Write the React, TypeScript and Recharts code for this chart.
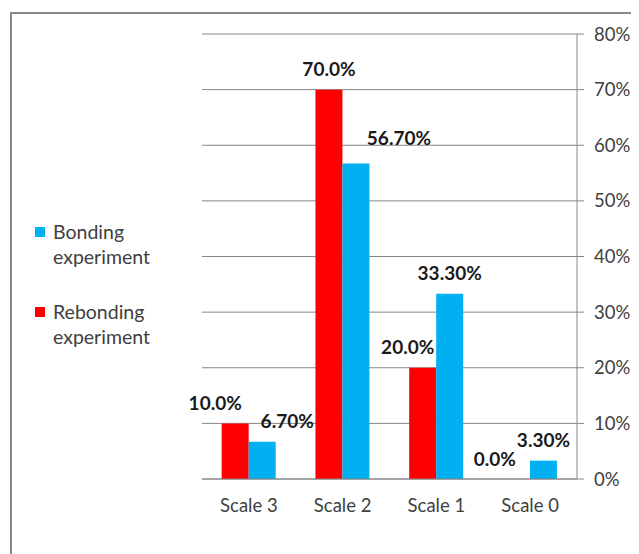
import { BarChart, Bar, XAxis, YAxis, CartesianGrid, Legend, LabelList, ReferenceDot } from 'recharts';

const categories = ['Scale 3', 'Scale 2', 'Scale 1', 'Scale 0'];
const rebonding = [10.0, 70.0, 20.0, 0.0];
const bonding = [6.7, 56.7, 33.3, 3.3];
const yTicks = [0, 10, 20, 30, 40, 50, 60, 70, 80];
const edgeTicks = [0, 1, 2, 3, 4];

// label nudges so the value tags don't collide (dx, dy)
const rebondingLabelShift = [[-20, 0], [0, 0], [-15, 0], [-22, 0]];
const bondingLabelShift = [[25, 0], [43, -5], [0, 0], [0, 0]];

const data = categories.map((name, i) => ({
  name,
  rebonding: rebonding[i],
  bonding: bonding[i],
}));

const FONT = 'Lato, "Open Sans", sans-serif';
const RED = '#FF0000';
const BLUE = '#00B0F0';
const AXIS = '#868686';

const ValueText = ({ x, y, text }: { x: number; y: number; text: string }) => (
  <text
    x={x}
    y={y}
    textAnchor="middle"
    dominantBaseline="central"
    fontFamily={FONT}
    fontWeight={700}
    fontSize={19}
    fill="#1a1a1a"
  >
    {text}
  </text>
);

const makeLabel = (shift: number[][], digits: number) => (props: any) => {
  const { x, y, width, index, value } = props;
  const [dx, dy] = shift[index];
  return <ValueText x={x + width / 2 + dx} y={y - 21 + dy} text={`${Number(value).toFixed(digits)}%`} />;
};

// zero-height bars get no LabelList entry, so tag them from the axis scale instead
const zeroIdx = rebonding.map((v, i) => (v === 0 ? i : -1)).filter((i) => i >= 0);

const LegendBox = () => {
  const items = [
    { color: BLUE, lines: ['Bonding', 'experiment'] },
    { color: RED, lines: ['Rebonding', 'experiment'] },
  ];
  return (
    <div style={{ fontFamily: FONT, fontSize: 19.5, color: '#404040' }}>
      {items.map((it) => (
        <div key={it.lines[0]} style={{ position: 'relative', paddingLeft: 18, height: 80, lineHeight: '25px' }}>
          <span
            style={{
              position: 'absolute',
              left: 0,
              top: 8,
              width: 10,
              height: 10,
              background: it.color,
            }}
          />
          {it.lines.map((l) => (
            <div key={l}>{l}</div>
          ))}
        </div>
      ))}
    </div>
  );
};

export default function App() {
  return (
    <div style={{ position: 'relative', width: 631, height: 546, overflow: 'hidden', background: '#fff' }}>
      <div
        style={{
          position: 'absolute',
          left: 2,
          top: 4,
          width: 700,
          height: 700,
          border: '2px solid #888',
        }}
      />
      <div style={{ position: 'absolute', left: 0, top: 0 }}>
        <BarChart
          width={631}
          height={546}
          data={data}
          margin={{ top: 26, right: 0, left: 44, bottom: 35 }}
          barCategoryGap="21%"
          barGap={0}
        >
          <CartesianGrid vertical={false} stroke={AXIS} strokeWidth={1} />
          <XAxis
            xAxisId="edges"
            type="number"
            domain={[0, 4]}
            ticks={edgeTicks}
            height={0}
            axisLine={false}
            tickLine={{ stroke: AXIS }}
            tickSize={7}
            tickFormatter={() => ''}
          />
          <XAxis
            dataKey="name"
            axisLine={{ stroke: AXIS }}
            tickLine={false}
            height={40}
            tick={{ fontFamily: FONT, fontSize: 18.5, fill: '#404040' }}
            tickMargin={14}
          />
          <YAxis
            orientation="right"
            domain={[0, 80]}
            ticks={yTicks}
            width={62}
            axisLine={{ stroke: AXIS }}
            tickLine={{ stroke: AXIS }}
            tickSize={7}
            tickMargin={10}
            tickFormatter={(v) => `${v}%`}
            tick={{ fontFamily: FONT, fontSize: 18.5, fill: '#404040' }}
          />
          <Legend
            layout="vertical"
            align="left"
            verticalAlign="middle"
            content={() => <LegendBox />}
            wrapperStyle={{ left: 27, top: 211, width: 150 }}
          />
          <Bar dataKey="rebonding" name="Rebonding experiment" fill={RED} isAnimationActive={false}>
            <LabelList dataKey="rebonding" content={makeLabel(rebondingLabelShift, 1)} />
          </Bar>
          <Bar dataKey="bonding" name="Bonding experiment" fill={BLUE} isAnimationActive={false}>
            <LabelList dataKey="bonding" content={makeLabel(bondingLabelShift, 2)} />
          </Bar>
          {zeroIdx.map((i) => (
            <ReferenceDot
              key={`zero-${i}`}
              x={categories[i]}
              y={rebonding[i]}
              r={0}
              shape={(p: any) => (
                <ValueText
                  x={p.cx - 13.4 + rebondingLabelShift[i][0]}
                  y={p.cy - 21 + rebondingLabelShift[i][1]}
                  text={`${rebonding[i].toFixed(1)}%`}
                />
              )}
            />
          ))}
        </BarChart>
      </div>
    </div>
  );
}
